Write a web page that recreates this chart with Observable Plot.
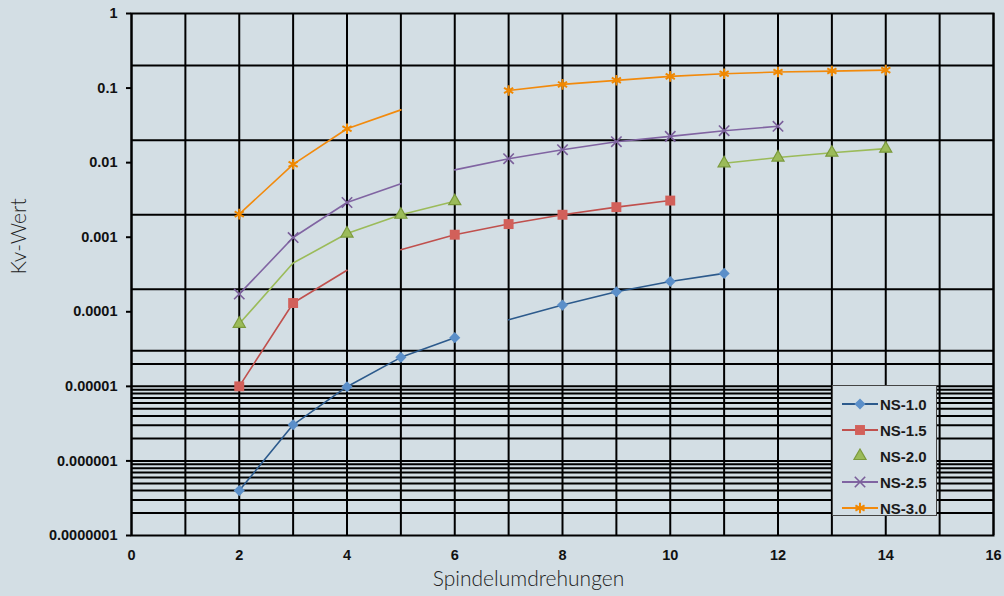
<!DOCTYPE html>
<html>
<head>
<meta charset="utf-8">
<script src="https://cdn.jsdelivr.net/npm/d3@7"></script>
<script src="https://cdn.jsdelivr.net/npm/@observablehq/plot@0.6"></script>
<style>
  html, body { margin: 0; padding: 0; background: #d3dee4; }
  #wrap { position: relative; width: 1004px; height: 596px; }
  #legend {
    position: absolute; left: 832px; top: 385px; width: 105px; height: 131px;
    background: #d3dee4; border: 1px solid #444; box-sizing: border-box;
    font-family: "Liberation Sans", Arial, sans-serif; font-weight: bold; font-size: 15px; color: #1a1a1a;
  }
  .row { position: absolute; left: 0; height: 20px; display: flex; align-items: center; }
  .row svg { margin-left: 9px; }
  .row span { margin-left: 2px; }
</style>
</head>
<body>
<div id="wrap"><div id="legend"></div></div>
<script>
// ---- data ----
const seriesNames = ["NS-1.0", "NS-1.5", "NS-2.0", "NS-2.5", "NS-3.0"];

const ns10_seg1 = [[2, 4.0e-7], [3, 3.05e-6], [4, 9.9e-6], [5, 2.45e-5], [6, 4.5e-5]];
const ns10_seg2 = [[7, 7.8e-5], [8, 1.23e-4], [9, 1.86e-4], [10, 2.55e-4], [11, 3.27e-4]];
const ns15_seg1 = [[2, 1.0e-5], [3, 1.31e-4], [4, 3.6e-4]];
const ns15_seg2 = [[5, 6.8e-4], [6, 1.08e-3], [7, 1.5e-3], [8, 2.0e-3], [9, 2.53e-3], [10, 3.1e-3]];
const ns20_seg1 = [[2, 6.9e-5], [3, 4.5e-4], [4, 1.12e-3], [5, 2.0e-3], [6, 3.04e-3]];
const ns20_seg2 = [[11, 9.8e-3], [12, 1.17e-2], [13, 1.36e-2], [14, 1.54e-2]];
const ns25_seg1 = [[2, 1.73e-4], [3, 9.9e-4], [4, 2.92e-3], [5, 5.2e-3]];
const ns25_seg2 = [[6, 8.0e-3], [7, 1.13e-2], [8, 1.49e-2], [9, 1.91e-2], [10, 2.25e-2], [11, 2.68e-2], [12, 3.07e-2]];
const ns30_seg1 = [[2, 2.04e-3], [3, 9.5e-3], [4, 2.85e-2], [5, 5.1e-2]];
const ns30_seg2 = [[7, 9.3e-2], [8, 0.112], [9, 0.127], [10, 0.1435], [11, 0.1555], [12, 0.164], [13, 0.169], [14, 0.174]];

// points drawn without a marker (segment ends)
const ns10_noMarker = [7];
const ns15_noMarker = [4, 5];
const ns20_noMarker = [3];
const ns25_noMarker = [5, 6];
const ns30_noMarker = [5];

const xTicks = [0, 2, 4, 6, 8, 10, 12, 14, 16];
const xGrid = d3.range(0, 17);
const yTicks = [1, 0.1, 0.01, 0.001, 0.0001, 0.00001, 0.000001, 0.0000001];
const yTickLabels = ["1", "0.1", "0.01", "0.001", "0.0001", "0.00001", "0.000001", "0.0000001"];
const yGrid = [0.2, 0.02, 0.002, 0.0002, 3e-5, 2e-5, 1e-5,
  9e-6, 8e-6, 7e-6, 6e-6, 5e-6, 4e-6, 3e-6, 2e-6, 1e-6,
  9e-7, 8e-7, 7e-7, 6e-7, 5e-7, 4e-7, 3e-7, 2e-7];

// ---- styles ----
const lineColors = ["#2c5a8c", "#c0504d", "#9bbb59", "#8064a2", "#f28a0c"];
const markFill = ["#5b8fc9", "#d2605a", "#9bbb59", "none", "none"];
const markStroke = ["#5b8fc9", "#d2605a", "#7b9a3c", "#7a5f9a", "#f08800"];
const markSymbol = ["diamond2", "square", "triangle", "times", "asterisk"];
const markR = [5, 5.6, 4.5, 4.8, 5];
const markSW = [0, 0, 1.2, 1.6, 2];

const segs = [
  [ns10_seg1, ns10_seg2, ns10_noMarker],
  [ns15_seg1, ns15_seg2, ns15_noMarker],
  [ns20_seg1, ns20_seg2, ns20_noMarker],
  [ns25_seg1, ns25_seg2, ns25_noMarker],
  [ns30_seg1, ns30_seg2, ns30_noMarker]
];

const rows = [];
segs.forEach(([a, b, nm], si) => {
  [a, b].forEach((seg, k) => seg.forEach(([x, y]) => rows.push({
    series: seriesNames[si], si, seg: si + "-" + k, x, y, marker: !nm.includes(x)
  })));
});

const marks = [
  Plot.ruleX(xGrid, {stroke: "#000", strokeWidth: 2}),
  Plot.ruleY(yGrid, {stroke: "#000", strokeWidth: 2}),
  Plot.frame({stroke: "#000", strokeWidth: 2}),
  Plot.axisY({ticks: yTicks, tickFormat: (d) => yTickLabels[yTicks.indexOf(d)], tickSize: 5, tickPadding: 9,
    fontSize: 14.5, fontWeight: "bold", label: null, stroke: "#000", strokeWidth: 2}),
  Plot.axisX({ticks: xTicks, tickFormat: (d) => String(d), tickSize: 0, tickPadding: 14,
    fontSize: 14.5, fontWeight: "bold", label: null})
];

seriesNames.forEach((name, si) => {
  const data = rows.filter(r => r.si === si);
  marks.push(Plot.line(data, {x: "x", y: "y", z: "seg", stroke: lineColors[si], strokeWidth: 1.6}));
});
seriesNames.forEach((name, si) => {
  const data = rows.filter(r => r.si === si && r.marker);
  marks.push(Plot.dot(data, {x: "x", y: "y", symbol: () => markSymbol[si], r: markR[si],
    fill: markFill[si], stroke: markStroke[si], strokeWidth: markSW[si]}));
});

marks.push(Plot.text(["Spindelumdrehungen"], {frameAnchor: "bottom", dy: 50, dx: -34, fontSize: 21,
  fontWeight: 300, fill: "#222", fontFamily: "Lato, 'Liberation Sans', sans-serif"}));
marks.push(Plot.text(["Kv-Wert"], {frameAnchor: "left", dx: -112, rotate: -90, fontSize: 21,
  fontWeight: 300, fill: "#222", fontFamily: "Lato, 'Liberation Sans', sans-serif"}));

const chart = Plot.plot({
  width: 1004, height: 596,
  marginLeft: 131, marginTop: 13, marginRight: 11, marginBottom: 61,
  style: {background: "transparent", fontFamily: "'Liberation Sans', Arial, sans-serif", color: "#111", overflow: "visible"},
  x: {domain: [0, 16]},
  y: {type: "log", domain: [1e-7, 1]},
  symbol: {type: "identity"},
  marks
});
const wrap = document.getElementById("wrap");
wrap.insertBefore(chart, wrap.firstChild);

// ---- legend ----
const legend = document.getElementById("legend");
seriesNames.forEach((name, si) => {
  const row = document.createElement("div");
  row.className = "row";
  row.style.top = (8 + si * 26) + "px";
  const svg = d3.create("svg").attr("width", 36).attr("height", 16);
  if (si !== 2) svg.append("line").attr("x1", 0).attr("x2", 36).attr("y1", 8).attr("y2", 8)
    .attr("stroke", lineColors[si]).attr("stroke-width", 2);
  const symMap = {diamond2: d3.symbolDiamond2, square: d3.symbolSquare, triangle: d3.symbolTriangle,
    times: d3.symbolTimes, asterisk: d3.symbolAsterisk};
  const r = markR[si];
  svg.append("path").attr("transform", "translate(18,8)")
    .attr("d", d3.symbol(symMap[markSymbol[si]], Math.PI * r * r)())
    .attr("fill", markFill[si]).attr("stroke", markStroke[si]).attr("stroke-width", markSW[si]);
  row.appendChild(svg.node());
  const t = document.createElement("span");
  t.textContent = name;
  row.appendChild(t);
  legend.appendChild(row);
});
</script>
</body>
</html>
